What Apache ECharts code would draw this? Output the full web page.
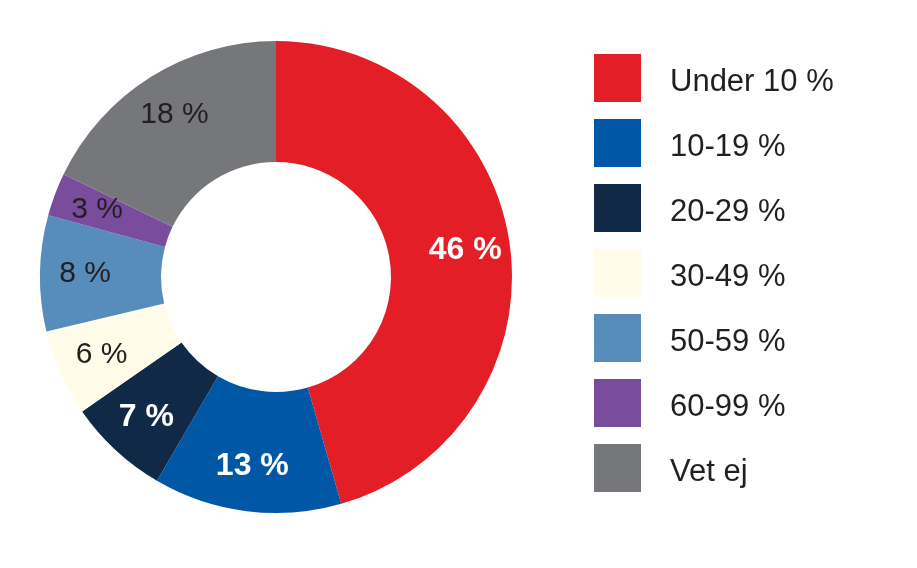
<!DOCTYPE html>
<html>
<head>
<meta charset="utf-8">
<script src="https://cdn.jsdelivr.net/npm/echarts@6/dist/echarts.min.js"></script>
<style>
  html, body { margin: 0; padding: 0; background: #fff; }
  #chart { width: 917px; height: 568px; }
</style>
</head>
<body>
<div id="chart"></div>
<script>
// andelar i procent
const categories = ['Under 10 %', '10-19 %', '20-29 %', '30-49 %', '50-59 %', '60-99 %', 'Vet ej'];
const values = [46, 13, 7, 6, 8, 3, 18];
const colors = ['#E31E26', '#0057A6', '#102946', '#FFFDEA', '#568DBA', '#7A4C9E', '#76777B'];
const labelColors = ['#fff', '#fff', '#fff', '#231F20', '#231F20', '#231F20', '#231F20'];
const labelBold = [true, true, true, false, false, false, false];

const chart = echarts.init(document.getElementById('chart'));

const pieData = categories.map((name, i) => ({
    name: name,
    value: values[i],
    itemStyle: { color: colors[i] }
}));

// separate series only for labels, so they sit a bit further out in the ring
const labelData = categories.map((name, i) => ({
    name: name,
    value: values[i],
    label: {
        color: labelColors[i],
        fontWeight: labelBold[i] ? 'bold' : 'normal',
        fontSize: labelBold[i] ? 32 : 30
    }
}));

const option = {
    animation: false,
    legend: {
        orient: 'vertical',
        left: 589,
        top: 49,
        data: categories,
        icon: 'rect',
        itemWidth: 47,
        itemHeight: 48,
        itemGap: 17,
        selectedMode: false,
        formatter: (name) => '{t|' + name + '}',
        textStyle: {
            fontFamily: 'Liberation Sans',
            fontSize: 31,
            color: '#231F20',
            padding: [0, 0, 0, 24],
            rich: {
                t: {
                    fontFamily: 'Liberation Sans',
                    fontSize: 31,
                    color: '#231F20',
                    padding: [8, 0, 0, 0]
                }
            }
        }
    },
    series: [
        {
            name: 'main',
            type: 'pie',
            center: [276, 277],
            radius: [115, 236],
            startAngle: 90,
            clockwise: true,
            silent: true,
            label: { show: false },
            labelLine: { show: false },
            itemStyle: { borderWidth: 0 },
            data: pieData
        },
        {
            name: 'labels',
            type: 'pie',
            center: [276, 277],
            radius: [140, 236],
            startAngle: 90,
            clockwise: true,
            silent: true,
            itemStyle: { color: 'rgba(0,0,0,0)', borderWidth: 0 },
            label: {
                show: true,
                position: 'inside',
                formatter: (p) => p.value + ' %',
                fontFamily: 'Liberation Sans'
            },
            labelLine: { show: false },
            data: labelData
        }
    ]
};

chart.setOption(option);
</script>
</body>
</html>
